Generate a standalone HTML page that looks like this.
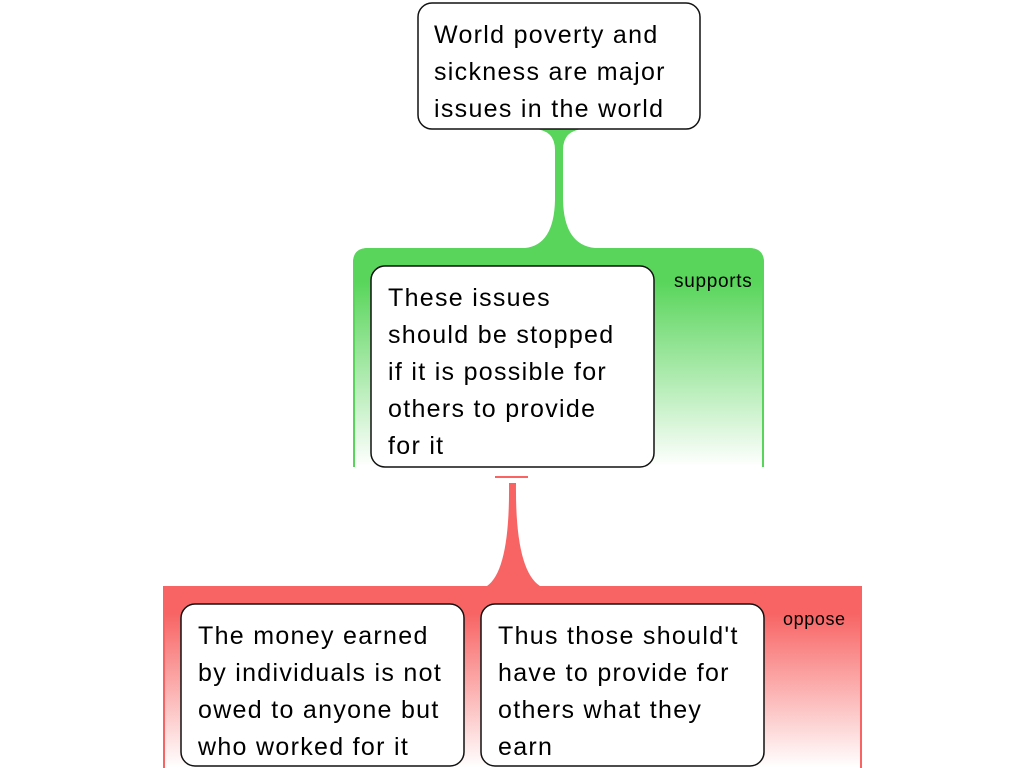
<!DOCTYPE html>
<html><head><meta charset="utf-8"><style>
body{margin:0;width:1024px;height:768px;overflow:hidden;background:#fff;font-family:"Liberation Sans",Arial,sans-serif}
</style></head><body>
<svg width="1024" height="768" viewBox="0 0 1024 768" xmlns="http://www.w3.org/2000/svg" style="position:absolute;left:0;top:0">
<defs>
<linearGradient id="g" x1="0" y1="0" x2="0" y2="1">
<stop offset="0.15" stop-color="#58d55a"/><stop offset="1" stop-color="#ffffff"/></linearGradient>
<linearGradient id="r" x1="0" y1="0" x2="0" y2="1">
<stop offset="0.15" stop-color="#f86464"/><stop offset="1" stop-color="#ffffff"/></linearGradient>
</defs>
<path d="M353,467 L353,263 Q353,248 368,248 L749,248 Q764,248 764,263 L764,467 Z" fill="url(#g)"/>
<path d="M353,263 Q353,248 368,248 L749,248 Q764,248 764,263 L764,467 L762,467 L762,263 L355,263 L355,467 L353,467 Z" fill="#58d55a"/>
<path d="M534,129 L584,129 Q563,130 563,150 L563,200 Q564,245 595,248 L525,248 Q554,245 555,200 L555,150 Q555,130 534,129 Z" fill="#58d55a"/>
<rect x="163" y="586" width="699" height="182" fill="url(#r)"/>
<rect x="163" y="586" width="2" height="182" fill="#f86464"/>
<rect x="860" y="586" width="2" height="182" fill="#f86464"/>
<rect x="495" y="476" width="33" height="2" fill="#f86464"/>
<path d="M509,483 L516,483 Q515,570 540,586 L487,586 Q510,570 509,483 Z" fill="#f86464"/>
<rect x="418" y="3" width="282" height="126" rx="14" fill="#fff" stroke="#111" stroke-width="1.5"/>
<rect x="371" y="266" width="283" height="201" rx="14" fill="#fff" stroke="#111" stroke-width="1.5"/>
<rect x="181" y="604" width="283" height="162" rx="14" fill="#fff" stroke="#111" stroke-width="1.5"/>
<rect x="481" y="604" width="283" height="162" rx="14" fill="#fff" stroke="#111" stroke-width="1.5"/>
<g font-family="Liberation Sans, Arial, sans-serif" font-size="25" letter-spacing="1.3" fill="#000">
<text x="434" y="43">World poverty and</text>
<text x="434" y="80">sickness are major</text>
<text x="434" y="117">issues in the world</text>
<text x="388" y="306">These issues</text>
<text x="388" y="343">should be stopped</text>
<text x="388" y="380">if it is possible for</text>
<text x="388" y="417">others to provide</text>
<text x="388" y="454">for it</text>
<text x="198" y="644">The money earned</text>
<text x="198" y="681">by individuals is not</text>
<text x="198" y="718">owed to anyone but</text>
<text x="198" y="755">who worked for it</text>
<text x="498" y="644">Thus those should't</text>
<text x="498" y="681">have to provide for</text>
<text x="498" y="718">others what they</text>
<text x="498" y="755">earn</text>
</g>
<text x="674" y="287" font-family="Liberation Sans, Arial, sans-serif" font-size="19" letter-spacing="0.7">supports</text>
<text x="783" y="625" font-family="Liberation Sans, Arial, sans-serif" font-size="18" letter-spacing="0.6">oppose</text>
</svg>
</body></html>
